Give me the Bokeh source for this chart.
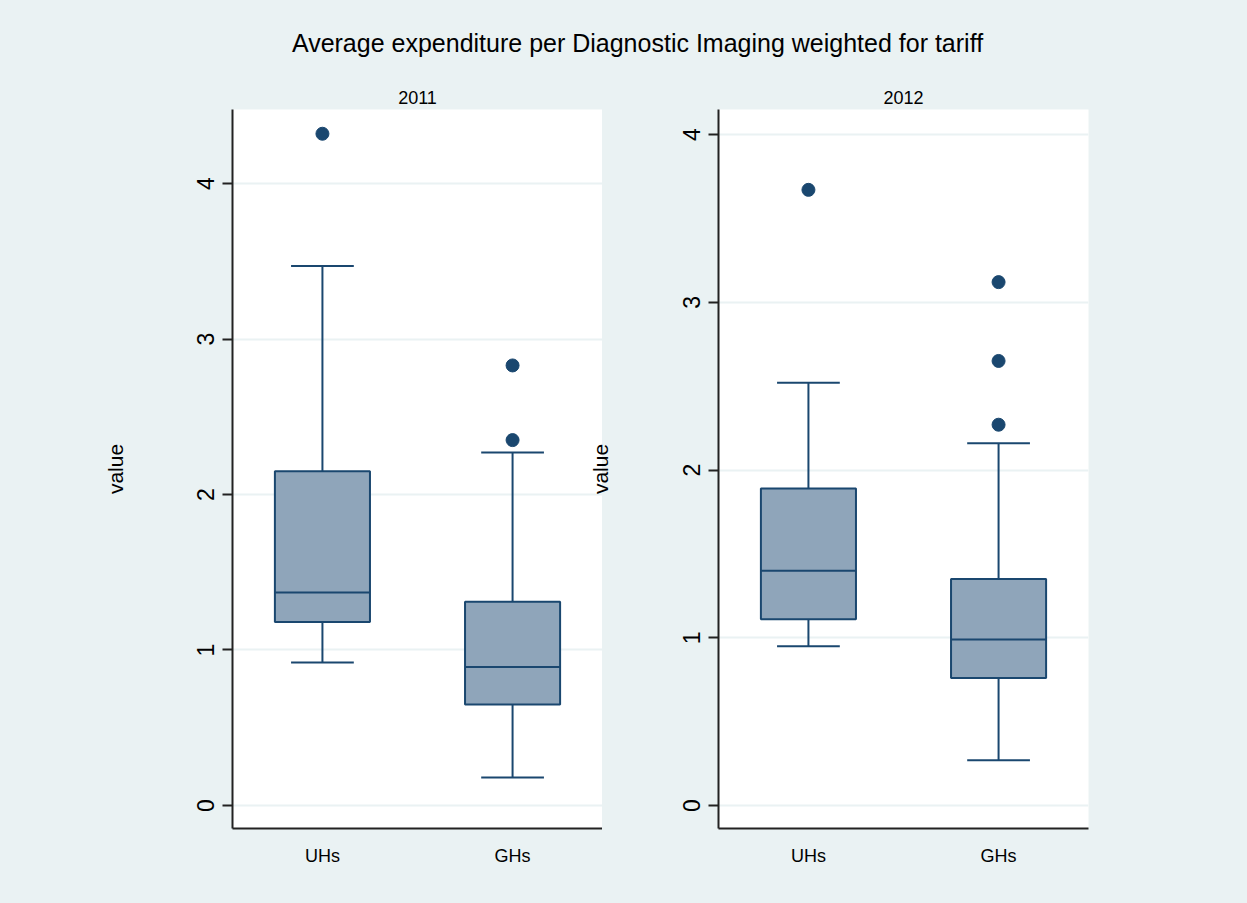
from bokeh.plotting import figure
from bokeh.models import Div, FixedTicker, Range1d
from bokeh.layouts import row, column
from bokeh.embed import file_html
from bokeh.resources import INLINE

# ---------------- data ----------------
title_text = "Average expenditure per Diagnostic Imaging weighted for tariff"
years = ["2011", "2012"]
groups = ["UHs", "GHs"]
group_pos = [1, 2]
y_ticks = [0, 1, 2, 3, 4]
y_label = "value"

lower_2011 = [0.92, 0.18]
q1_2011 = [1.18, 0.65]
median_2011 = [1.37, 0.89]
q3_2011 = [2.15, 1.31]
upper_2011 = [3.47, 2.27]
outliers_2011 = [[4.32], [2.35, 2.83]]

lower_2012 = [0.95, 0.27]
q1_2012 = [1.11, 0.76]
median_2012 = [1.40, 0.99]
q3_2012 = [1.89, 1.35]
upper_2012 = [2.52, 2.16]
outliers_2012 = [[3.67], [2.27, 2.65, 3.12]]

# ---------------- style ----------------
BG = "#EAF2F3"
NAVY = "#1A476F"
BOX_FILL = "#8FA5BA"
AXIS_COLOR = "#222222"
FONT = "Liberation Sans"

FIG_H = 843
TOP = 49
BOTTOM = 75
BOX_W = 0.5
CAP_W = 0.33


def make_panel(year, lower, q1, med, q3, upper, outliers, y_range,
               width, border_left, border_right, **kw):
    p = figure(width=width, height=FIG_H, output_backend="svg",
               toolbar_location=None, x_range=Range1d(0.527, 2.473),
               y_range=Range1d(*y_range), title=year, **kw)
    p.min_border_left = border_left
    p.min_border_right = border_right
    p.min_border_top = TOP
    p.min_border_bottom = BOTTOM
    p.border_fill_color = BG
    p.background_fill_color = "white"
    p.outline_line_color = None

    p.title.align = "center"
    p.title.text_font = FONT
    p.title.text_font_size = "18px"
    p.title.text_font_style = "normal"
    p.title.text_color = "black"
    p.title.standoff = 12

    # grid
    p.xgrid.visible = False
    p.ygrid.ticker = FixedTicker(ticks=y_ticks)
    p.ygrid.grid_line_color = BG
    p.ygrid.grid_line_width = 2

    # y axis
    ya = p.yaxis[0]
    ya.ticker = FixedTicker(ticks=y_ticks)
    ya.axis_line_color = AXIS_COLOR
    ya.axis_line_width = 2
    ya.major_tick_line_color = AXIS_COLOR
    ya.major_tick_line_width = 2
    ya.major_tick_out = 10
    ya.major_tick_in = 0
    ya.minor_tick_line_color = None
    ya.major_label_orientation = "vertical"
    ya.major_label_text_font = FONT
    ya.major_label_text_font_size = "23px"
    ya.major_label_text_color = "black"
    ya.major_label_standoff = 8
    ya.axis_label = y_label
    ya.axis_label_text_font = FONT
    ya.axis_label_text_font_size = "21px"
    ya.axis_label_text_font_style = "normal"
    ya.axis_label_text_color = "black"

    # x axis
    xa = p.xaxis[0]
    xa.ticker = FixedTicker(ticks=group_pos)
    xa.major_label_overrides = {pos: g for pos, g in zip(group_pos, groups)}
    xa.axis_line_color = AXIS_COLOR
    xa.axis_line_width = 2
    xa.major_tick_line_color = None
    xa.minor_tick_line_color = None
    xa.major_label_text_font = FONT
    xa.major_label_text_font_size = "18px"
    xa.major_label_text_color = "black"
    xa.major_label_standoff = 11

    # boxes
    p.vbar(x=group_pos, width=BOX_W, bottom=q1, top=q3,
           fill_color=BOX_FILL, line_color=NAVY, line_width=2)
    # medians
    p.segment(x0=[x - BOX_W / 2 for x in group_pos], x1=[x + BOX_W / 2 for x in group_pos],
              y0=med, y1=med, line_color=NAVY, line_width=2)
    # whiskers
    p.segment(x0=group_pos, x1=group_pos, y0=q3, y1=upper, line_color=NAVY, line_width=2)
    p.segment(x0=group_pos, x1=group_pos, y0=q1, y1=lower, line_color=NAVY, line_width=2)
    # caps
    p.segment(x0=[x - CAP_W / 2 for x in group_pos], x1=[x + CAP_W / 2 for x in group_pos],
              y0=upper, y1=upper, line_color=NAVY, line_width=2)
    p.segment(x0=[x - CAP_W / 2 for x in group_pos], x1=[x + CAP_W / 2 for x in group_pos],
              y0=lower, y1=lower, line_color=NAVY, line_width=2)
    # outliers
    ox, oy = [], []
    for x, outs in zip(group_pos, outliers):
        for v in outs:
            ox.append(x)
            oy.append(v)
    p.scatter(x=ox, y=oy, size=13, fill_color=NAVY, line_color=NAVY)
    return p


p1 = make_panel(years[0], lower_2011, q1_2011, median_2011, q3_2011, upper_2011,
                outliers_2011, (-0.148, 4.476), 602, 232, 0)
p1.yaxis[0].axis_label_standoff = 68

# right panel overlaps the left one slightly so its axis title sits in the gap
p2 = make_panel(years[1], lower_2012, q1_2012, median_2012, q3_2012, upper_2012,
                outliers_2012, (-0.137, 4.149), 662, 132, 159, margin=(0, 0, 0, -17))
p2.border_fill_alpha = 0
p2.yaxis[0].axis_label_standoff = 69

title_div = Div(
    text=(f'<div style="font-family:{FONT},Arial,sans-serif;font-size:25px;color:#000;'
          f'text-align:center;width:1247px;box-sizing:border-box;padding-left:28px;'
          f'padding-top:28px;line-height:30px;">{title_text}</div>'),
    width=1247, height=60, styles={"background-color": BG, "margin": "0"})

layout = column(title_div, row(p1, p2, styles={"background-color": BG}),
                styles={"background-color": BG})

with open("out.html", "w") as f:
    f.write(file_html(layout, INLINE))
